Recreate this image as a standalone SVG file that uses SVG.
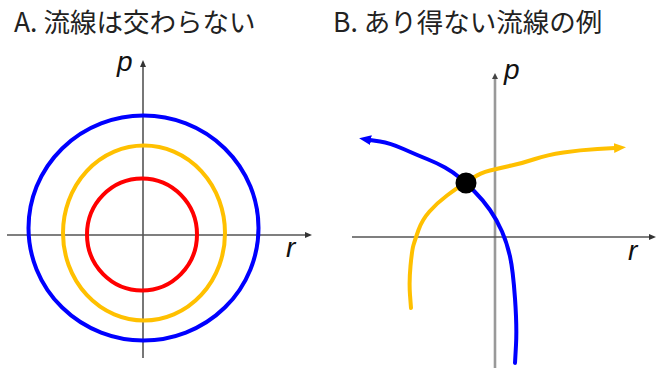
<svg xmlns="http://www.w3.org/2000/svg" width="660" height="368" viewBox="0 0 660 368">
<style>
.title{font-family:"Noto Sans CJK JP","Noto Sans",sans-serif;font-size:26.5px;fill:#222}
.lab{font-family:"Liberation Sans",Arial,sans-serif;font-style:italic;font-size:28px;fill:#111}
.ax{stroke:#555;stroke-width:1.6;fill:none}
.ax2{stroke:#999;stroke-width:2.6;fill:none}
.crv{fill:none;stroke-width:4;stroke-linecap:round;stroke-linejoin:round}
</style>
<defs>
<marker id="axa" markerUnits="userSpaceOnUse" markerWidth="8" markerHeight="8" refX="1" refY="3" orient="auto">
<path d="M0,0 L7,3 L0,6 z" fill="#333"/>
</marker>
<marker id="ba" markerUnits="userSpaceOnUse" markerWidth="14" markerHeight="12" refX="1" refY="5" orient="auto">
<path d="M0,0 L12,5 L0,10 z" fill="#0000ff"/>
</marker>
<marker id="oa" markerUnits="userSpaceOnUse" markerWidth="14" markerHeight="12" refX="1" refY="5" orient="auto">
<path d="M0,0 L12,5 L0,10 z" fill="#ffc000"/>
</marker>
</defs>
<g id="titleA"><text class="title" x="14" y="32">A. 流線は交わらない</text></g>
<g id="titleB"><text class="title" x="333" y="32">B. あり得ない流線の例</text></g>
<g id="panelA">
<line class="ax" x1="143" y1="358" x2="143" y2="66" marker-end="url(#axa)"/>
<line class="ax" x1="7" y1="235" x2="306" y2="235" marker-end="url(#axa)"/>
<ellipse cx="143.5" cy="228" rx="115" ry="112.5" class="crv" stroke="#0000ff"/>
<ellipse cx="144" cy="233" rx="81" ry="87.5" class="crv" stroke="#ffc000"/>
<ellipse cx="142" cy="234.5" rx="55" ry="56" class="crv" stroke="#ff0000" stroke-width="3.6"/>
<text class="lab" x="117" y="71">p</text>
<text class="lab" x="286" y="257">r</text>
</g>
<g id="panelB">
<line class="ax2" x1="495" y1="368" x2="495" y2="78"/>
<path d="M495,73 l-3,6 l6,0 z" fill="#444"/>
<line class="ax" x1="352" y1="237" x2="650" y2="237" marker-end="url(#axa)"/>
<text class="lab" x="504" y="79">p</text>
<text class="lab" x="628" y="260">r</text>
</g>
<g id="connectors">
<path id="blueFlow" class="crv" stroke="#0000ff" d="M515,363 L516,345 Q517,327 515,298.5 Q513,270 510,256.5 Q507,243 502,231.5 Q497,220 490,210 Q483,200 474.5,191.5 Q466,183 459.5,177.5 Q453,172 445,167.5 Q437,163 427,159 Q417,155 403.5,149 Q390,143 380,141.5 L370,140" marker-end="url(#ba)"/>
<path id="orangeFlow" class="crv" stroke="#ffc000" d="M411,308 L410,295 Q409,282 410.5,266 Q412,250 413.5,245 Q415,240 418.5,230 Q422,220 429.5,211.5 Q437,203 447,195.5 Q457,188 461.5,185.5 Q466,183 473,178 Q480,173 490,170.5 Q500,168 511.5,165.5 Q523,163 535,159 Q547,155 563.5,152.5 Q580,150 597.5,149 L615,148" marker-end="url(#oa)"/>
</g>
<g id="crossPoint"><circle cx="466" cy="183" r="10.5" fill="#000"/></g>
</svg>
